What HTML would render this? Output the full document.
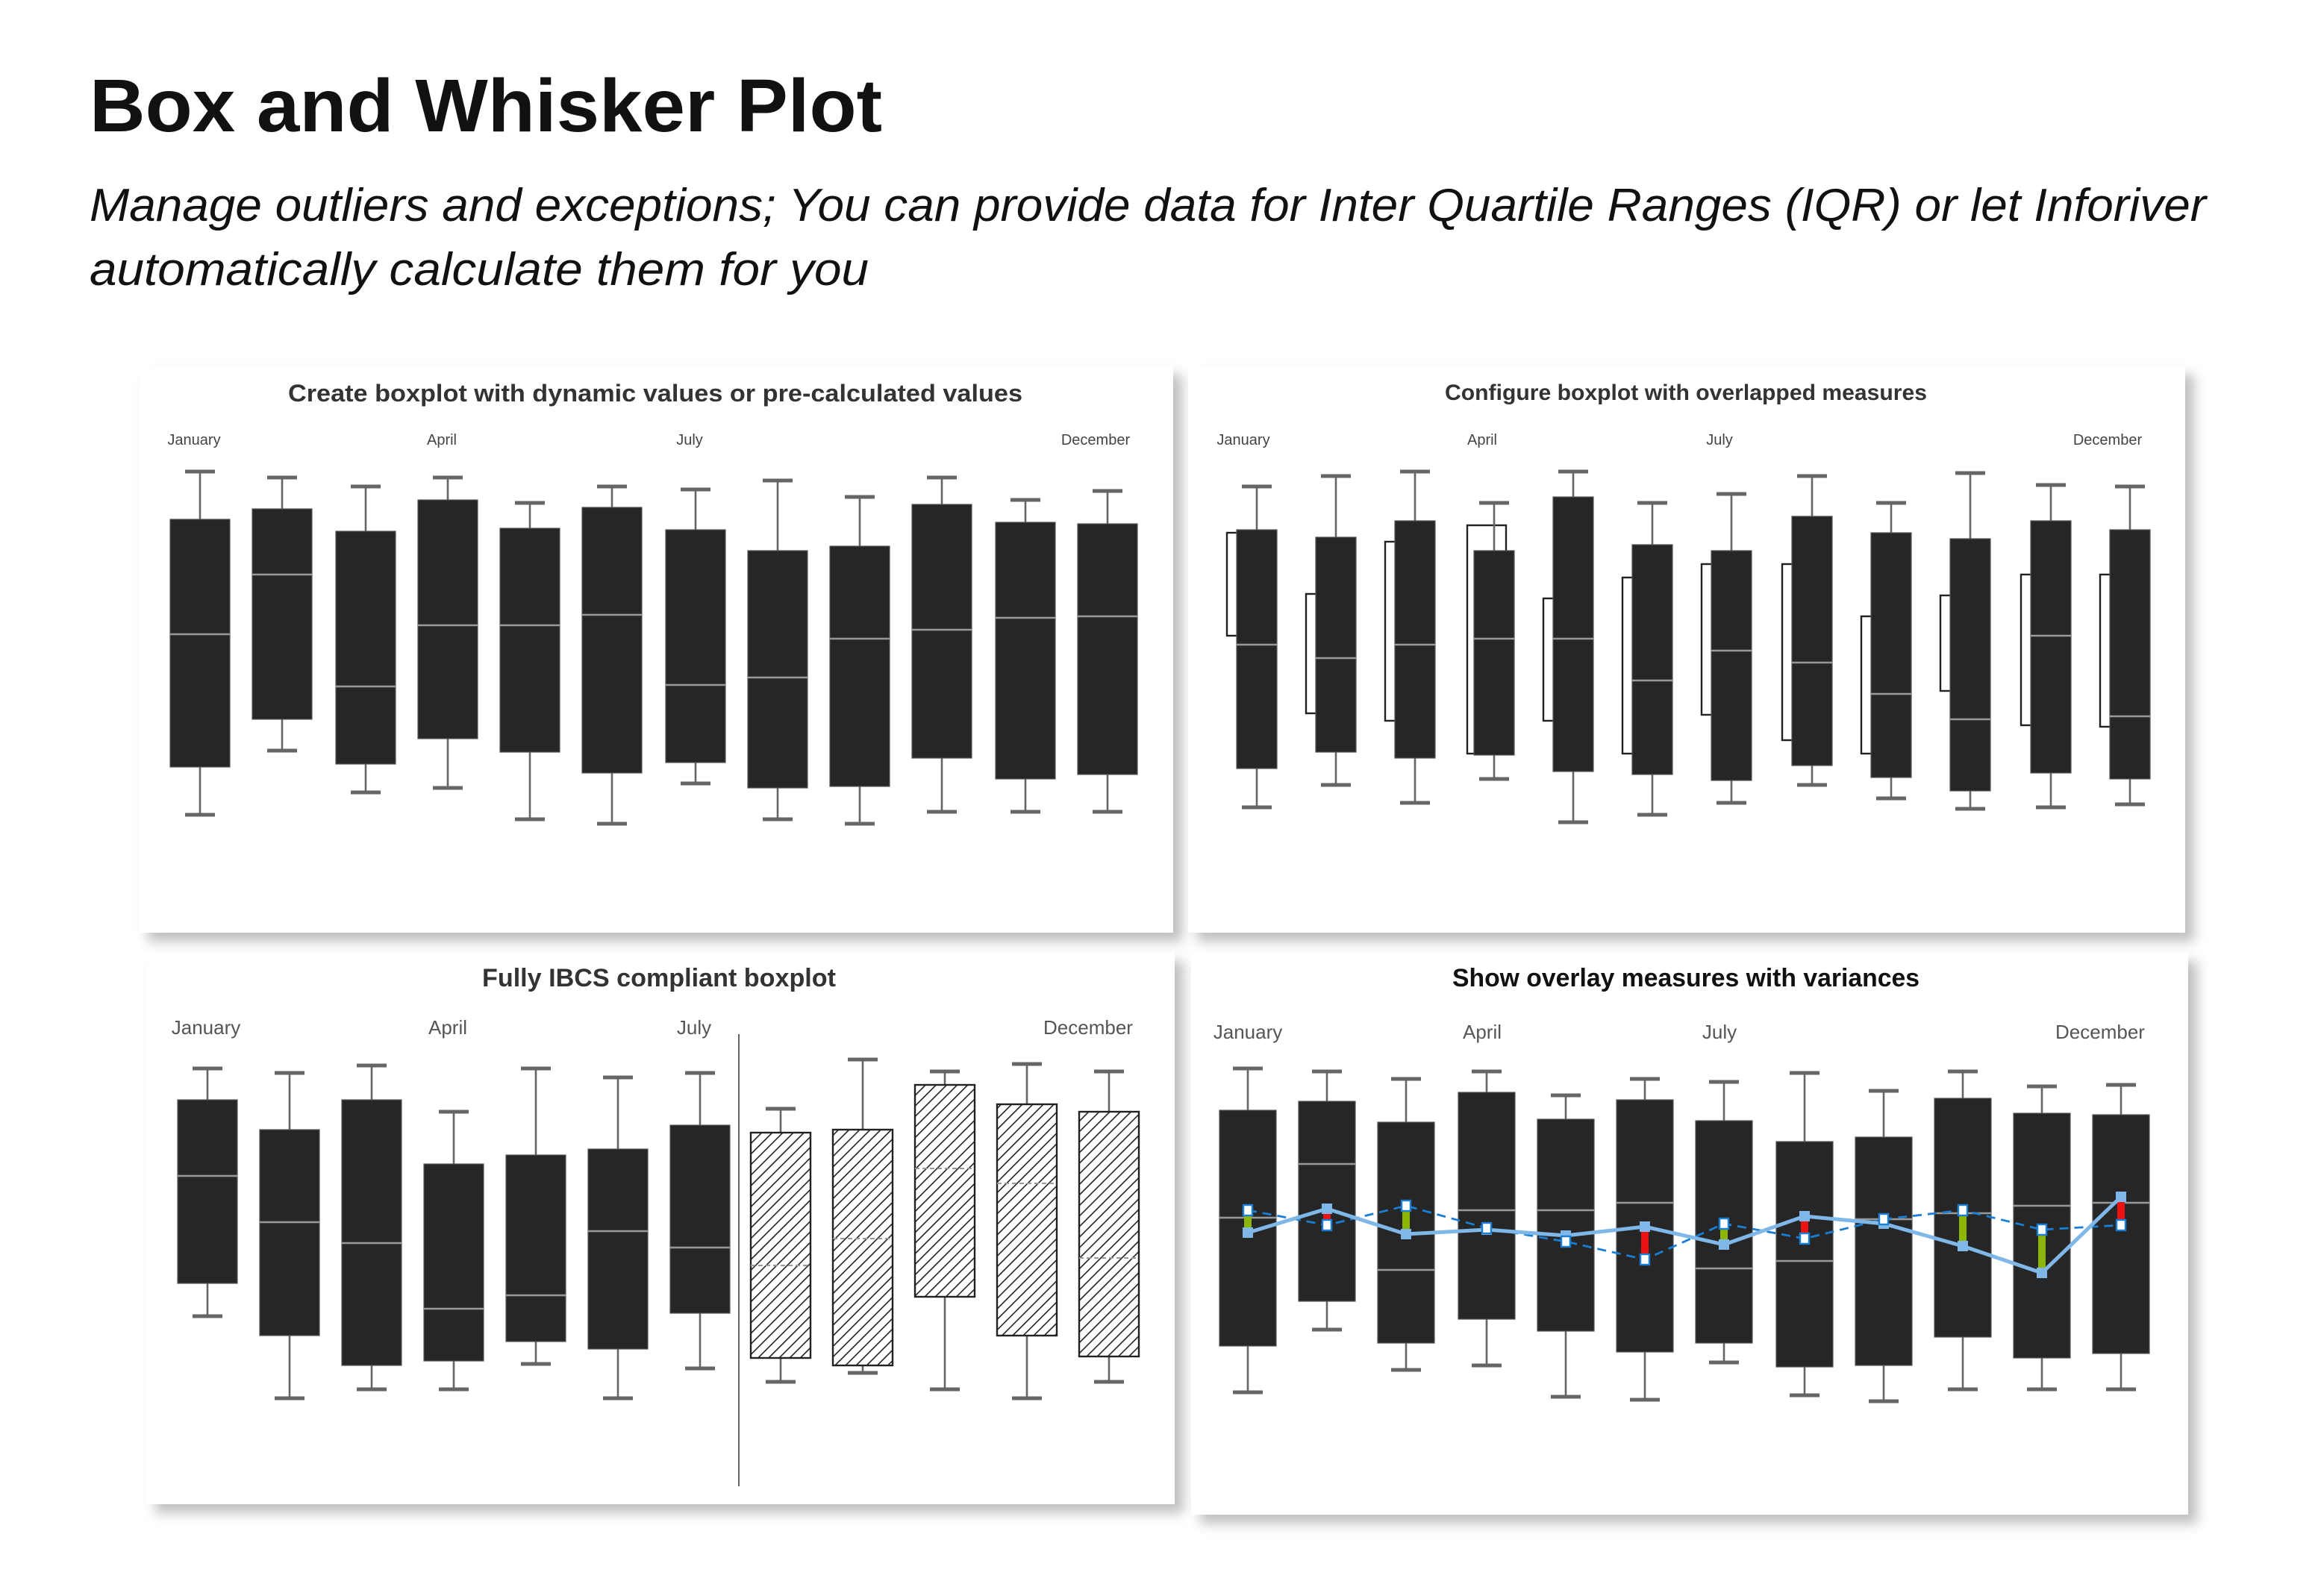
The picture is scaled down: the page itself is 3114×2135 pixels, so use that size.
<!DOCTYPE html>
<html><head><meta charset="utf-8"><style>
html,body{margin:0;padding:0;background:#fff;}
svg{display:block;}
text{font-family:"Liberation Sans",sans-serif;}
</style></head><body>
<svg id="s" width="3114" height="2135" viewBox="0 0 1557 1067.5" xmlns="http://www.w3.org/2000/svg">
<defs>
<pattern id="hatch" width="5" height="5" patternUnits="userSpaceOnUse" patternTransform="rotate(45)">
<rect width="5" height="5" fill="#fff"/><line x1="0" y1="0" x2="0" y2="5" stroke="#222" stroke-width="1.6"/>
</pattern>
<filter id="sh" x="-5%" y="-5%" width="115%" height="115%"><feDropShadow dx="6" dy="6" stdDeviation="4" flood-color="#000" flood-opacity="0.25"/></filter>
</defs>
<g transform="translate(-2,-2)">
<text x="62" y="90" font-size="50" font-weight="bold" fill="#111" textLength="531" lengthAdjust="spacingAndGlyphs">Box and Whisker Plot</text>
<text x="62" y="150" font-size="31" font-style="italic" fill="#111" textLength="1418" lengthAdjust="spacingAndGlyphs">Manage outliers and exceptions; You can provide data for Inter Quartile Ranges (IQR) or let Inforiver</text>
<text x="62" y="193" font-size="31" font-style="italic" fill="#111" textLength="522" lengthAdjust="spacingAndGlyphs">automatically calculate them for you</text>

<rect x="95" y="247" width="693" height="380" fill="#fff" filter="url(#sh)"/>
<rect x="798" y="247" width="668" height="380" fill="#fff" filter="url(#sh)"/>
<rect x="100" y="640" width="689" height="370" fill="#fff" filter="url(#sh)"/>
<rect x="800" y="640" width="668" height="377" fill="#fff" filter="url(#sh)"/>

<text x="195" y="271" font-size="16" font-weight="bold" fill="#333" textLength="492" lengthAdjust="spacingAndGlyphs">Create boxplot with dynamic values or pre-calculated values</text>
<text x="970" y="270" font-size="15" font-weight="bold" fill="#333" textLength="323" lengthAdjust="spacingAndGlyphs">Configure boxplot with overlapped measures</text>
<text x="325" y="663" font-size="17" font-weight="bold" fill="#333" textLength="237" lengthAdjust="spacingAndGlyphs">Fully IBCS compliant boxplot</text>
<text x="975" y="663" font-size="17" font-weight="bold" fill="#111" textLength="313" lengthAdjust="spacingAndGlyphs">Show overlay measures with variances</text>

<g font-size="10" fill="#444" text-anchor="middle">
<text x="132" y="300">January</text><text x="298" y="300">April</text><text x="464" y="300">July</text><text x="736" y="300">December</text>
<text x="835" y="300">January</text><text x="995" y="300">April</text><text x="1154" y="300">July</text><text x="1414" y="300">December</text>
</g>
<g font-size="13" fill="#555" text-anchor="middle">
<text x="140" y="695">January</text><text x="302" y="695">April</text><text x="467" y="695">July</text><text x="731" y="695">December</text>
<text x="838" y="698">January</text><text x="995" y="698">April</text><text x="1154" y="698">July</text><text x="1409" y="698">December</text>
</g>
<line x1="497" y1="695" x2="497" y2="998" stroke="#666" stroke-width="1"/>
<g id="g"></g>
</g>
</svg>
<script>
var g=document.getElementById('g'),h='';
function box(cx,w,d,hatch){
 var cw=20;
 h+='<line x1="'+cx+'" y1="'+d[0]+'" x2="'+cx+'" y2="'+d[4]+'" stroke="#666" stroke-width="1.3"/>';
 h+='<line x1="'+(cx-cw/2)+'" y1="'+d[0]+'" x2="'+(cx+cw/2)+'" y2="'+d[0]+'" stroke="#666" stroke-width="2.5"/>';
 h+='<line x1="'+(cx-cw/2)+'" y1="'+d[4]+'" x2="'+(cx+cw/2)+'" y2="'+d[4]+'" stroke="#666" stroke-width="2.5"/>';
 if(hatch){
  h+='<rect x="'+(cx-w/2)+'" y="'+d[1]+'" width="'+w+'" height="'+(d[3]-d[1])+'" fill="url(#hatch)" stroke="#222" stroke-width="1.2"/>';
  h+='<line x1="'+(cx-w/2)+'" y1="'+d[2]+'" x2="'+(cx+w/2)+'" y2="'+d[2]+'" stroke="#999" stroke-width="1" stroke-dasharray="3,2"/>';
 }else{
  h+='<rect x="'+(cx-w/2)+'" y="'+d[1]+'" width="'+w+'" height="'+(d[3]-d[1])+'" fill="#262626" stroke="#555" stroke-width="0.6"/>';
  h+='<line x1="'+(cx-w/2)+'" y1="'+d[2]+'" x2="'+(cx+w/2)+'" y2="'+d[2]+'" stroke="#999" stroke-width="1.2"/>';
 }
}
var c1=[136,191,247,302,357,412,468,523,578,633,689,744];
var d1=[[318,350,427,516,548],[322,343,387,484,505],[328,358,462,514,533],[322,337,421,497,530],[339,356,421,506,551],[328,342,414,520,554],[330,357,461,513,527],[324,371,456,530,551],[335,368,430,529,554],[322,340,424,510,546],[337,352,416,524,546],[331,353,415,521,546]];
c1.forEach(function(c,i){box(c,40,d1[i]);});
var c2=[844,897,950,1003,1056,1109,1162,1216,1269,1322,1376,1429];
var d2=[[328,357,434,517,543,359,428],[321,362,443,506,528,400,480],[318,351,434,510,540,365,485],[339,371,430,508,524,354,507],[318,335,430,519,553,403,485],[339,367,458,521,548,389,507],[333,371,438,525,540,380,481],[321,348,446,515,528,380,498],[339,359,467,523,537,415,507],[319,363,484,532,544,401,465],[327,351,428,520,543,387,488],[328,357,482,524,541,387,489]];
c2.forEach(function(c,i){var d=d2[i];
 if(i==3){h+='<rect x="'+(c-18)+'" y="'+d[5]+'" width="26" height="'+(d[6]-d[5])+'" fill="#fff" stroke="#222" stroke-width="1.2"/>';}
 else h+='<rect x="'+(c-20)+'" y="'+d[5]+'" width="8" height="'+(d[6]-d[5])+'" fill="#fff" stroke="#222" stroke-width="1.2"/>';
 box(c,27,d);});
var c3=[141,196,251,306,361,416,471,525,580,635,690,745];
var d3=[[718,739,790,862,884],[721,759,821,897,939],[716,739,835,917,933],[747,782,879,914,933],[718,776,870,901,916],[724,772,827,906,939],[721,756,838,882,919],[745,761,850,912,928],[712,759,832,917,922],[720,729,785,871,933],[715,742,795,897,939],[720,747,845,911,928]];
c3.forEach(function(c,i){box(c,40,d3[i],i>=7);});
var c4=[838,891,944,998,1051,1104,1157,1211,1264,1317,1370,1423];
var d4=[[718,746,818,904,935],[720,740,782,874,893],[725,754,853,902,920],[720,734,813,886,917],[736,752,813,894,938],[725,739,808,908,940],[727,753,852,902,915],[721,767,847,918,937],[733,764,819,917,941],[720,738,815,898,933],[730,748,810,912,933],[729,749,808,909,933]];
c4.forEach(function(c,i){box(c,38,d4[i]);});
var sl=[828,812,829,826,830,824,836,817,822,837,855,804];
var ds=[813,823,810,825,834,846,822,832,819,813,826,823];
c4.forEach(function(c,i){var a=sl[i],b=ds[i];if(Math.abs(a-b)<6)return;
 var col=a>b?'#8db600':'#ee1111';
 h+='<rect x="'+(c-2.5)+'" y="'+Math.min(a,b)+'" width="5" height="'+Math.abs(a-b)+'" fill="'+col+'"/>';});
var p1=c4.map(function(c,i){return c+','+ds[i];}).join(' ');
var p2=c4.map(function(c,i){return c+','+sl[i];}).join(' ');
h+='<polyline points="'+p1+'" fill="none" stroke="#1a7fd4" stroke-width="1.4" stroke-dasharray="6,4"/>';
h+='<polyline points="'+p2+'" fill="none" stroke="#7fb8e8" stroke-width="2.5"/>';
c4.forEach(function(c,i){h+='<rect x="'+(c-3.5)+'" y="'+(sl[i]-3.5)+'" width="7" height="7" fill="#7fb8e8"/>';
 h+='<rect x="'+(c-3)+'" y="'+(ds[i]-3.5)+'" width="6" height="7" fill="#fff" stroke="#1a7fd4" stroke-width="1.2"/>';});
g.innerHTML=h;
</script>
</body></html>
